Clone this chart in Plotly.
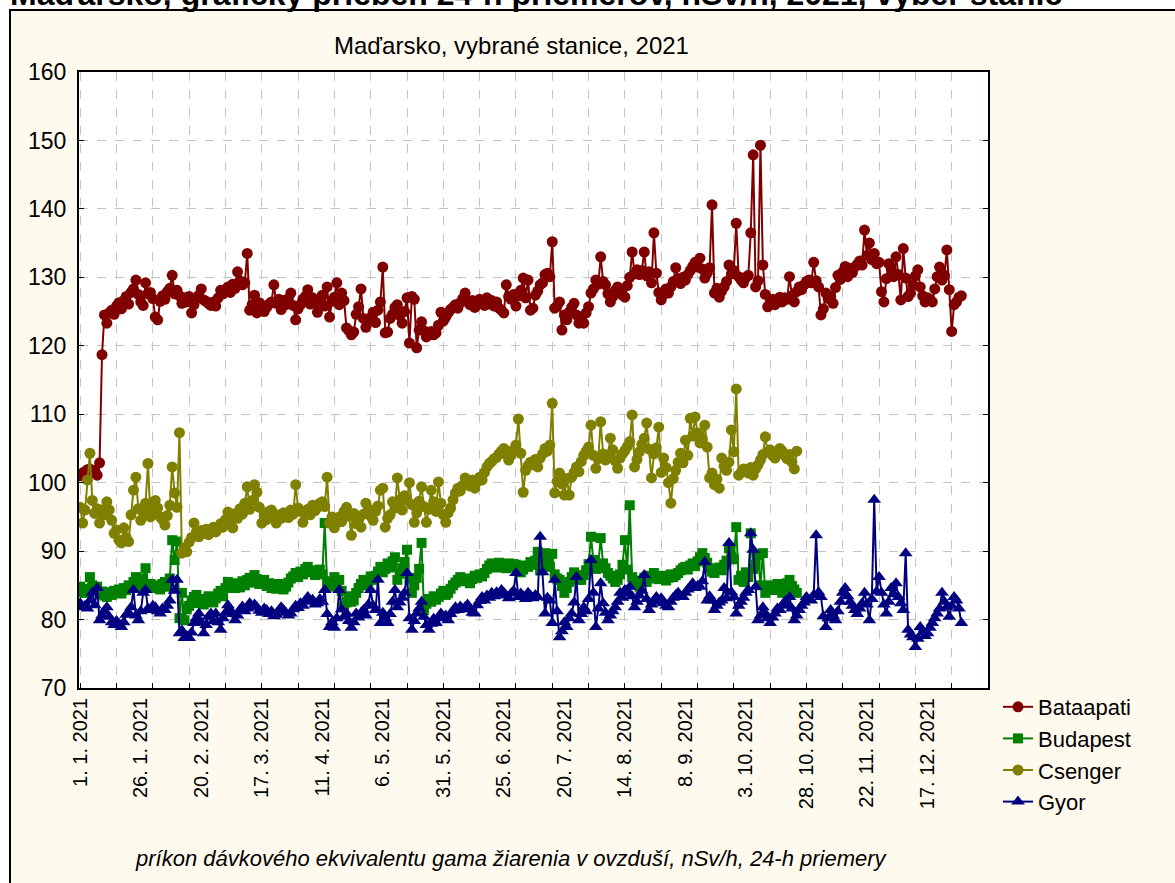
import pandas as pd
import plotly.graph_objects as go

# 24-h averages, nSv/h, one value per day starting 1. 1. 2021
bataapati = [
    101.0, 101.4, 101.6, 101.9, 102.0, 101.5, 101.8, 101.1, 102.9, 118.7,
    124.5, 123.3, 124.8, 125.2, 124.6, 125.8, 126.3, 125.4, 126.6, 127.2,
    126.1, 127.8, 128.3, 129.6, 127.5, 126.4, 125.9, 129.2, 127.6, 127.8,
    126.9, 124.2, 123.8, 126.5, 127.3, 126.8, 127.9, 128.4, 130.3, 127.6,
    128.1, 127.3, 126.2, 127.0, 126.4, 127.2, 124.8, 126.0, 126.9, 127.4,
    128.3, 126.7, 126.5, 126.2, 125.9, 126.4, 125.8, 127.0, 128.1, 127.6,
    128.2, 128.6, 127.8, 129.0, 128.4, 130.8, 129.5, 128.9, 129.2, 133.5,
    125.2, 126.0, 127.4, 124.8, 126.3, 125.5, 125.0, 125.6, 126.1, 126.4,
    128.9, 126.2, 126.8, 125.3, 126.6, 126.0, 126.9, 127.7, 125.9, 123.8,
    125.4, 126.0, 126.8, 127.2, 128.2, 126.1, 127.0, 126.3, 124.9, 126.7,
    127.4, 125.8, 128.6, 124.2, 126.5, 127.1, 129.2, 126.0, 127.7, 126.6,
    122.6, 122.2, 121.6, 122.0, 124.6, 125.7, 128.3, 124.0, 122.7, 123.8,
    124.1, 124.9, 123.4, 125.2, 126.4, 131.5, 121.9, 122.0, 124.0, 124.6,
    125.6, 126.0, 124.4, 123.3, 125.0, 127.0, 120.4, 127.2, 126.8, 119.7,
    122.3, 123.5, 122.2, 121.3, 121.8, 122.1, 121.6, 121.9, 123.0, 124.9,
    123.6, 124.2, 124.8, 125.3, 125.6, 126.0, 125.5, 126.3, 126.9, 127.7,
    126.4, 126.0, 126.6, 125.6, 126.2, 126.8, 126.5, 125.9, 127.0, 126.1,
    126.6, 125.8, 126.4, 125.5, 125.2, 124.8, 128.9, 127.2, 126.8, 127.5,
    125.8, 127.3, 128.1, 129.9, 127.0, 129.6, 125.2, 125.5, 127.4, 128.0,
    128.9, 129.2, 130.4, 130.6, 130.1, 135.2, 125.5, 125.8, 126.4, 122.3,
    124.5, 123.8, 124.9, 125.6, 126.2, 124.5, 123.3, 124.1, 123.3, 124.8,
    125.7, 127.7, 128.3, 129.6, 129.0, 133.0, 129.4, 128.9, 127.6, 126.4,
    127.2, 128.1, 128.6, 128.0, 127.4, 127.1, 128.8, 130.0, 133.7, 130.5,
    131.1, 130.4, 131.0, 133.7, 130.2, 130.8, 129.2, 136.5, 130.6, 127.8,
    126.7, 127.5, 128.3, 127.7, 128.6, 129.4, 131.4, 129.8, 129.1, 130.0,
    129.6, 130.4, 131.0, 131.6, 132.2, 131.5, 132.8, 131.2, 129.9, 130.6,
    131.4, 140.6, 127.7, 128.4, 127.1, 128.0, 128.6, 129.4, 131.8, 130.5,
    131.0, 137.9, 130.1, 129.6, 129.2, 130.0, 130.3, 136.5, 147.9, 128.6,
    129.5, 149.3, 131.8, 127.5, 125.7, 126.3, 126.8, 126.0, 126.6, 127.1,
    126.4, 127.0, 126.8, 130.1, 127.3, 126.4, 127.9, 128.6, 128.2, 128.9,
    129.4, 129.6, 129.2, 132.2, 129.5, 128.6, 124.5, 125.4, 127.7, 126.9,
    127.2, 126.2, 128.5, 130.3, 129.7, 130.8, 131.6, 130.1, 131.3, 130.7,
    131.5, 131.9, 132.4, 131.8, 136.9, 133.2, 135.0, 132.6, 133.5, 132.0,
    132.2, 127.9, 126.4, 129.8, 132.0, 131.2, 130.1, 133.0, 130.4, 126.7,
    134.2, 129.9, 127.2, 127.7, 128.9, 130.2, 131.1, 128.6, 127.3, 126.4,
    127.0, 126.8, 126.4, 128.3, 130.1, 131.5, 129.6, 130.3, 134.0, 128.2,
    122.1, 126.0, 126.4, 127.1, 127.3,
]

budapest = [
    84.8, 84.0, 83.9, 84.5, 86.2, 85.0, 84.3, 84.8, 83.7, 84.1,
    83.5, 83.3, 84.0, 83.6, 84.2, 83.9, 84.4, 83.8, 84.6, 84.3,
    85.0, 84.7, 85.5, 86.2, 84.8, 85.4, 86.0, 87.5, 84.8, 85.2,
    84.6, 84.6, 85.0, 84.4, 85.2, 85.5, 84.8, 86.0, 91.6, 88.7,
    91.4, 80.2, 83.9, 79.9, 81.5, 82.0, 82.8, 83.3, 83.6, 82.4,
    83.0, 82.2, 82.6, 83.4, 82.9, 82.5, 83.1, 83.8, 84.2, 83.4,
    84.6, 85.5, 84.9, 85.3, 84.6, 85.2, 84.7, 85.6, 85.0, 85.8,
    86.1, 85.4, 86.5, 85.9, 85.2, 85.6, 85.8, 84.9, 85.3, 84.6,
    85.0, 84.5, 85.2, 84.8, 84.4, 84.8, 85.4, 86.0, 86.3, 86.8,
    86.2, 87.0, 86.6, 87.4, 87.7, 86.9, 87.2, 86.5, 86.8, 87.3,
    86.6, 94.1, 85.3, 84.8, 85.6, 86.2, 85.1, 85.8, 84.2, 81.8,
    82.5, 83.4, 82.6, 82.8, 83.9, 84.6, 85.2, 85.8, 85.0, 85.6,
    86.3, 85.8, 86.4, 87.0, 87.7, 86.9, 87.4, 88.2, 87.6, 88.5,
    89.1, 85.8, 86.7, 87.5, 88.4, 90.2, 86.0, 83.9, 85.0, 86.1,
    87.4, 91.2, 81.4, 82.3, 83.0, 82.6, 83.4, 82.9, 83.3, 83.8,
    84.2, 83.6, 83.9, 84.5, 85.0, 85.4, 85.8, 86.2, 85.6, 86.0,
    85.7, 85.3, 85.9, 86.4, 86.1, 86.6, 86.3, 86.8, 87.4, 87.9,
    88.2, 88.0, 87.6, 88.3, 87.8, 88.0, 87.5, 88.2, 87.7, 88.1,
    88.0, 87.4, 86.9, 87.3, 87.9, 87.7, 88.4, 88.0, 88.6, 89.9,
    87.2, 88.1, 89.7, 88.4, 87.7, 89.6, 86.6, 86.0, 85.8, 84.9,
    83.9, 84.6, 85.5, 86.2, 86.9, 86.3, 85.8, 85.8, 86.5, 87.2,
    88.1, 92.1, 88.7, 87.4, 88.0, 91.9, 88.2, 87.5, 86.8, 86.4,
    86.0, 85.5, 85.8, 86.6, 88.0, 91.6, 87.3, 96.7, 86.2, 85.7,
    85.2, 84.8, 85.6, 86.1, 85.5, 86.4, 86.0, 86.8, 86.3, 85.9,
    86.4, 86.0, 85.7, 86.1, 86.6, 86.2, 86.5, 86.8, 87.2, 87.5,
    87.7, 87.3, 87.9, 88.2, 87.8, 88.5, 89.1, 89.7, 89.0, 88.3,
    87.5, 87.0, 86.8, 87.3, 87.6, 87.2, 88.0, 88.6, 90.4, 89.2,
    88.8, 93.5, 85.8, 86.4, 85.5, 86.9, 86.2, 92.6, 87.4, 88.0,
    89.4, 85.0, 89.7, 83.9, 84.6, 85.0, 84.3, 84.8, 85.2, 84.5,
    83.9, 84.6, 85.3, 85.8, 84.9, 84.4, 83.9,
]

csenger = [
    96.4, 94.1, 96.0, 100.4, 104.3, 97.4, 95.5, 96.2, 94.1, 96.0,
    95.3, 97.2, 96.0, 94.5, 92.6, 93.1, 91.6, 91.2, 93.4, 92.0,
    91.4, 95.3, 98.9, 100.8, 96.2, 94.5, 95.8, 97.0, 102.8, 95.0,
    96.1, 97.4, 96.3, 95.0, 94.6, 93.8, 95.2, 96.7, 102.3, 98.5,
    96.4, 107.3, 89.7, 90.4, 89.9, 91.3, 92.0, 94.1, 92.8, 92.1,
    93.0, 92.6, 93.2, 92.4, 93.0, 93.5, 92.8, 93.3, 94.0, 93.5,
    94.6, 95.7, 94.2, 93.4, 95.5, 94.8, 96.2, 95.4, 97.0, 99.4,
    96.1, 97.4, 99.7, 98.6, 96.4, 94.1, 95.2, 94.6, 95.8, 96.0,
    95.1, 94.1, 95.3, 94.8, 95.6, 95.5, 94.9, 96.0, 95.4, 99.7,
    96.3, 95.8, 94.2, 95.6, 96.1, 95.3, 96.7, 95.9, 96.4, 97.0,
    97.2, 96.5, 100.8, 94.1, 95.0, 93.4, 94.6, 95.0, 94.3, 95.8,
    96.4, 95.1, 92.3, 95.5, 94.0, 94.6, 93.5, 95.4, 97.0, 96.2,
    95.1, 94.5, 95.8, 96.6, 98.9, 99.2, 93.5, 94.8, 95.3, 97.2,
    96.3, 100.7, 97.5, 96.0, 98.1, 97.4, 100.0, 96.8, 94.2, 95.6,
    97.3, 99.4, 96.5, 94.2, 96.1, 98.9, 97.2, 95.8, 100.1, 97.0,
    95.3, 94.2, 95.6, 96.3, 97.5, 98.5, 99.2, 98.8, 99.6, 100.7,
    100.2, 99.5, 100.4, 99.2, 100.1, 100.8, 100.4, 101.5, 102.3, 102.8,
    103.1, 103.5, 103.7, 104.2, 104.6, 105.0, 104.1, 103.3, 104.0, 104.8,
    105.5, 109.3, 104.3, 98.6, 101.8, 102.5, 103.0, 102.6, 103.4, 102.3,
    103.6, 104.2, 105.0, 104.6, 105.5, 111.6, 98.5, 100.2, 101.4, 99.8,
    98.2, 100.6, 98.2, 100.8, 101.5, 102.3, 101.6, 103.1, 104.0, 104.6,
    105.2, 108.4, 104.0, 102.1, 103.5, 108.9, 104.2, 103.3, 104.0, 106.5,
    104.8, 103.2, 102.1, 103.6, 104.2, 104.7, 105.3, 106.0, 109.9, 102.3,
    103.4, 104.5, 105.6, 106.5, 108.7, 104.9, 100.7, 104.2, 105.1, 108.1,
    101.5, 103.6, 102.2, 100.0, 97.0, 100.6, 101.8, 103.0, 104.3, 102.9,
    106.2, 104.0, 109.4, 106.8, 109.6, 107.3, 105.8, 106.4, 108.4, 105.2,
    100.7, 101.4, 99.7, 100.5, 99.2, 103.6, 102.4, 101.8, 103.0, 107.7,
    104.5, 113.7, 101.1, 101.5, 102.0, 101.8, 101.4, 102.2, 101.1, 102.0,
    102.6, 103.3, 104.1, 106.7, 104.5, 104.8, 104.0, 103.6, 104.4, 105.0,
    104.6, 104.0, 103.5, 104.1, 103.0, 102.0, 104.6,
]

gyor = [
    82.4, 81.8, 82.0, 81.6, 82.8, 83.9, 82.1, 84.6, 79.9, 80.6,
    81.2, 81.8, 80.4, 79.6, 79.2, 79.8, 79.4, 78.9, 79.6, 80.7,
    81.0, 81.8, 84.3, 80.6, 79.9, 81.2, 83.9, 84.3, 81.6, 81.4,
    82.0, 81.8, 81.2, 80.9, 81.6, 81.4, 82.0, 82.8, 85.8, 84.2,
    85.8, 78.0, 78.4, 77.3, 77.6, 77.3, 78.1, 79.5, 80.2, 80.9,
    79.6, 78.0, 79.2, 80.4, 80.9, 79.8, 80.9, 79.6, 78.5, 80.2,
    81.0, 82.1, 81.4, 80.8, 79.9, 80.6, 81.4, 81.9, 81.2, 81.6,
    82.4, 81.8, 82.2, 81.8, 81.3, 81.0, 81.6, 81.4, 80.8, 81.2,
    80.5, 80.7, 81.3, 81.8, 81.4, 81.0, 80.6, 80.9, 81.5, 82.0,
    81.7, 82.4, 82.0, 82.7, 83.3, 82.6, 82.9, 82.2, 82.4, 83.0,
    82.6, 84.3, 80.8, 78.9, 79.6, 78.8, 80.2, 84.3, 81.5, 80.4,
    80.9, 79.8, 78.8, 79.6, 80.9, 80.3, 81.0, 81.4, 80.6, 82.2,
    84.3, 82.0, 81.4, 85.8, 79.5, 81.0, 80.2, 79.5, 80.8, 82.6,
    84.3, 81.8, 82.5, 83.2, 83.9, 86.8, 80.2, 78.5, 79.8, 80.9,
    81.6, 82.6, 80.4, 79.2, 78.5, 79.4, 80.1, 79.5, 80.2, 80.9,
    80.3, 80.6, 79.9, 80.8, 81.3, 81.8, 81.4, 81.9, 81.5, 81.8,
    82.2, 81.5, 81.0, 80.9, 82.1, 82.7, 83.3, 82.8, 83.5, 83.2,
    83.9, 83.4, 84.0, 83.7, 84.3, 83.9, 83.5, 83.1, 83.8, 84.2,
    86.8, 83.3, 83.8, 83.4, 83.0, 83.9, 83.5, 83.1, 83.6, 83.3,
    92.1, 86.9, 80.9, 83.2, 82.8, 79.5, 85.8, 81.2, 77.4, 78.3,
    79.6, 78.9, 80.2, 80.9, 82.5, 86.2, 79.9, 80.8, 81.8, 81.2,
    83.0, 88.7, 83.9, 78.9, 81.6, 85.3, 82.4, 81.0, 79.9, 80.6,
    81.2, 81.8, 82.6, 83.9, 83.2, 84.3, 83.8, 84.8, 83.4, 81.8,
    82.6, 83.5, 84.2, 86.5, 83.0, 81.4, 82.2, 82.8, 83.3, 82.6,
    83.1, 82.4, 82.0, 81.8, 82.6, 83.2, 83.6, 83.9, 83.4, 83.3,
    83.9, 84.4, 84.8, 85.3, 84.6, 84.9, 84.8, 85.6, 88.4, 82.8,
    83.4, 82.8, 81.4, 82.0, 82.5, 82.8, 84.6, 83.1, 91.2, 84.0,
    83.3, 80.9, 82.0, 82.6, 83.2, 83.9, 84.3, 92.6, 90.2, 84.8,
    79.9, 80.6, 81.8, 80.9, 80.2, 79.5, 80.3, 80.9, 81.6, 81.4,
    82.0, 82.6, 82.2, 83.3, 81.6, 79.9, 80.6, 81.4, 82.0, 82.5,
    83.3, 82.9, 82.8, 83.6, 92.3, 84.0, 83.3, 80.5, 78.9, 80.2,
    81.4, 80.6, 79.9, 81.2, 82.6, 83.9, 84.6, 83.4, 82.6, 82.0,
    81.4, 80.8, 81.6, 82.4, 83.9, 82.2, 79.9, 83.0, 97.5, 84.1,
    86.2, 83.9, 82.2, 80.9, 82.6, 84.6, 83.7, 85.3, 83.3, 82.4,
    81.4, 89.7, 78.5, 77.8, 77.4, 76.0, 77.2, 78.9, 78.1, 77.6,
    78.0, 78.8, 79.5, 80.2, 80.9, 81.6, 83.9, 82.6, 81.8, 80.4,
    82.0, 83.3, 82.8, 81.6, 79.5,
]

start = pd.Timestamp("2021-01-01")
label_days = list(range(0, 351, 25))
label_dates = [start + pd.Timedelta(days=d) for d in label_days]
label_text = [f"{d.day}. {d.month}. {d.year}" for d in label_dates]

series = [
    ("Bataapati", bataapati, "#800000", "circle", 11),
    ("Budapest", budapest, "#008000", "square", 10),
    ("Csenger", csenger, "#808000", "circle", 11),
    ("Gyor", gyor, "#000080", "triangle-up", 12),
]

FONT = "Arial, Liberation Sans, sans-serif"
L, R, T, B = 79, 187, 72, 195
W, H = 1175, 883
pw, ph = W - L - R, H - T - B


def px_x(x):
    return (x - L) / pw


def px_y(y):
    return (H - B - y) / ph


fig = go.Figure()
for name, vals, color, symbol, size in series:
    dates = pd.date_range(start, periods=len(vals), freq="D")
    fig.add_trace(go.Scatter(
        x=dates, y=vals, name=name, mode="lines+markers",
        line=dict(color=color, width=2),
        marker=dict(symbol=symbol, size=size, color=color),
    ))

fig.update_layout(
    width=W, height=H,
    margin=dict(l=L, r=R, t=T, b=B),
    paper_bgcolor="white", plot_bgcolor="white",
    font=dict(family=FONT, color="black"),
    showlegend=True,
    legend=dict(x=px_x(998), y=px_y(686), xanchor="left", yanchor="top",
                bgcolor="rgba(0,0,0,0)", font=dict(size=22), tracegroupgap=0),
    shapes=[
        dict(type="rect", xref="paper", yref="paper", layer="below",
             x0=px_x(10), x1=px_x(1185), y0=px_y(895), y1=px_y(10),
             fillcolor="#FFFAEE", line=dict(color="black", width=2)),
        dict(type="rect", xref="paper", yref="paper", layer="below",
             x0=0, x1=1, y0=0, y1=1, fillcolor="white", line=dict(width=0)),
    ],
    annotations=[
        dict(text="<b>Maďarsko, grafický priebeh 24-h priemerov, nSv/h, 2021, výber staníc</b>",
             xref="paper", yref="paper", x=px_x(8), y=px_y(14), xanchor="left", yanchor="bottom",
             showarrow=False, font=dict(size=32)),
        dict(text="Maďarsko, vybrané stanice, 2021", xref="paper", yref="paper",
             x=px_x(511), y=px_y(45), xanchor="center", yanchor="middle",
             showarrow=False, font=dict(size=24)),
        dict(text="<i>príkon dávkového ekvivalentu gama žiarenia v ovzduší, nSv/h, 24-h priemery</i>",
             xref="paper", yref="paper", x=px_x(511), y=px_y(858), xanchor="center", yanchor="middle",
             showarrow=False, font=dict(size=22)),
    ],
)

fig.update_xaxes(
    type="date",
    range=[start - pd.Timedelta(hours=12), start + pd.Timedelta(days=375)],
    tickmode="array", tickvals=label_dates, ticktext=label_text,
    tickangle=-90, tickfont=dict(size=20), ticks="", showgrid=False,
    minor=dict(dtick=15 * 86400000, tick0=start, showgrid=True, gridcolor="#c4c4c4",
               griddash="dash", gridwidth=1, ticks="inside", ticklen=5, tickcolor="black"),
    showline=True, linecolor="black", linewidth=2, mirror=True, zeroline=False,
)
fig.update_yaxes(
    range=[70, 160], dtick=10, tickfont=dict(size=23), ticklabelstandoff=6,
    showgrid=True, gridcolor="#c4c4c4", griddash="dash", gridwidth=1,
    ticks="inside", ticklen=5, tickcolor="black",
    showline=True, linecolor="black", linewidth=2, mirror="ticks", zeroline=False,
)

fig.write_html("out.html", config={"displayModeBar": False},
               post_script="document.body.style.margin = '0px';")
